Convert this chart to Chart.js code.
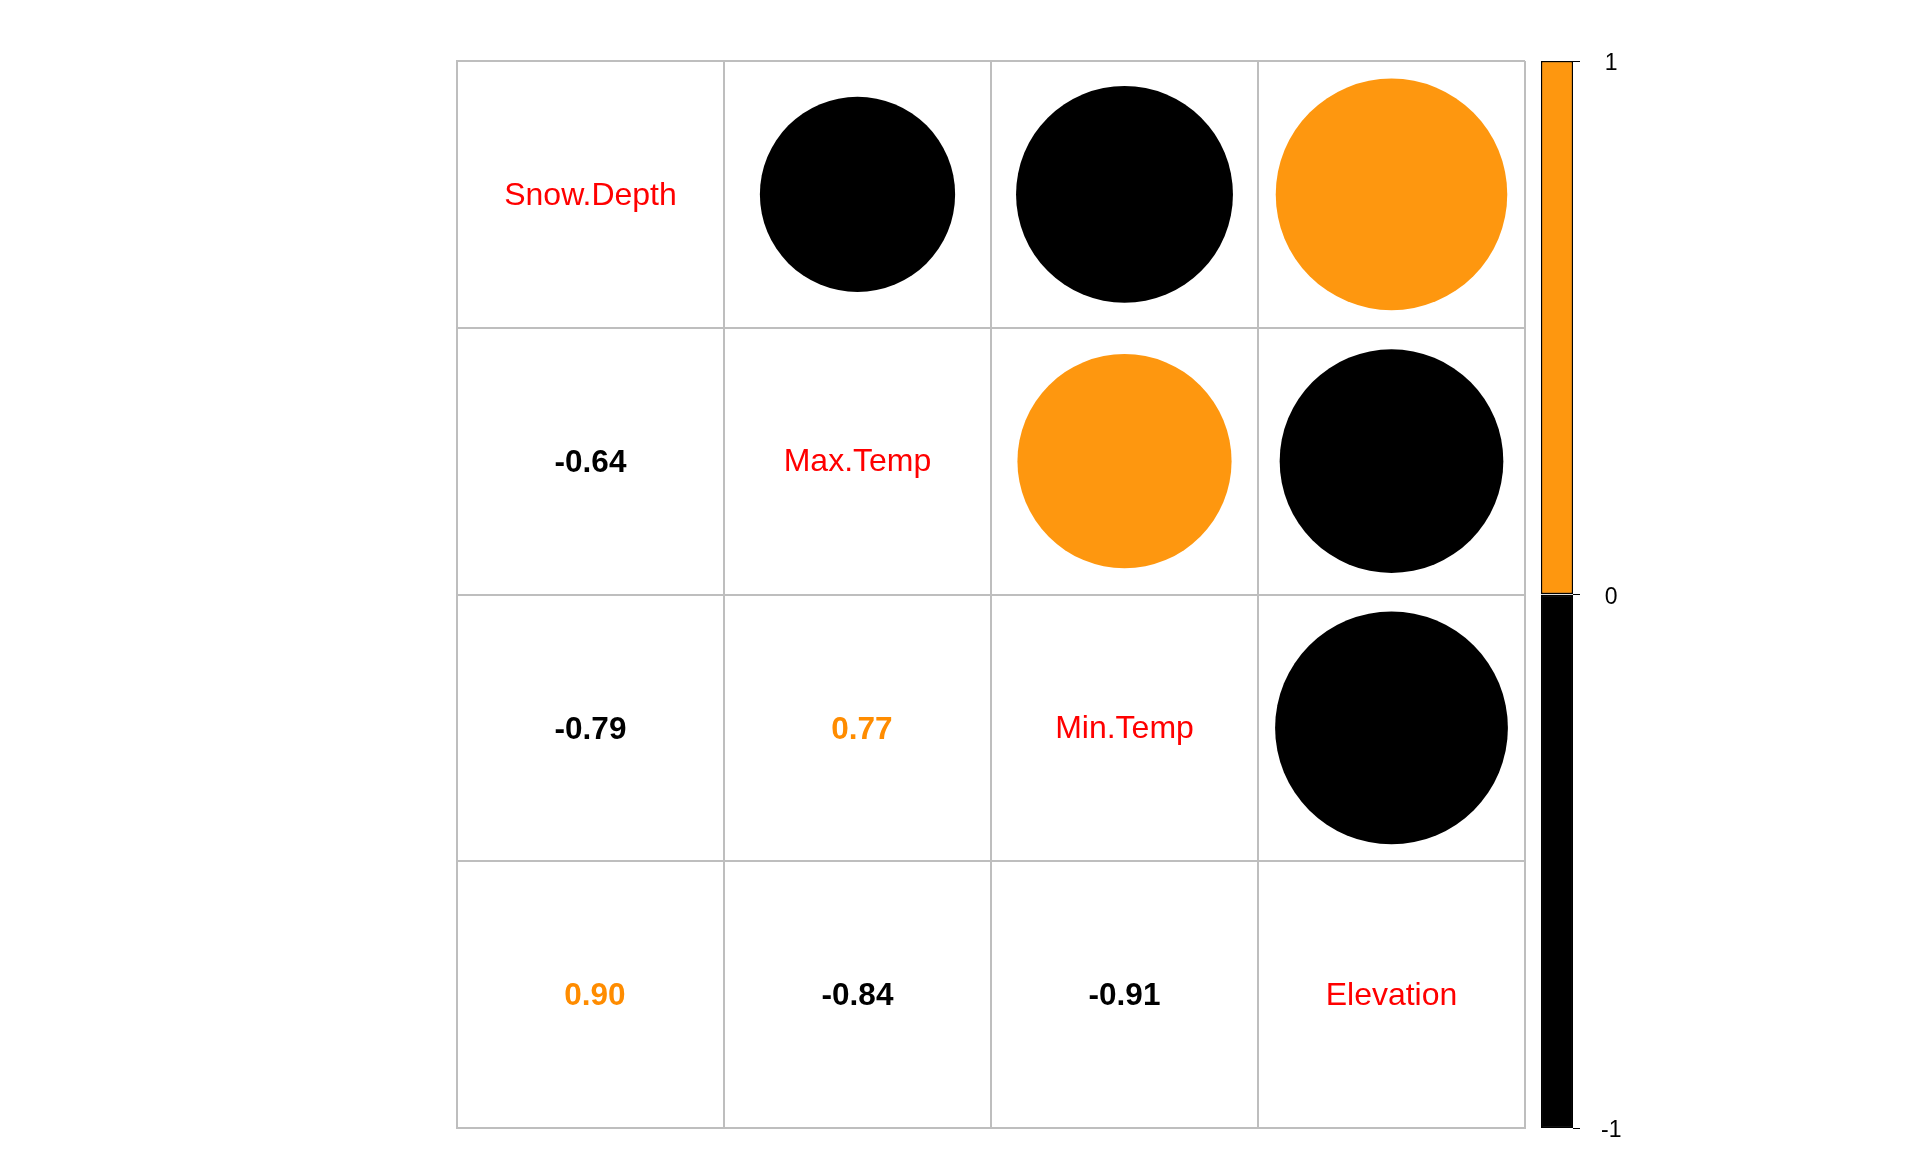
<!DOCTYPE html>
<html>
<head>
<meta charset="utf-8">
<script src="https://cdn.jsdelivr.net/npm/chart.js@4/dist/chart.umd.min.js"></script>
<style>
  html, body { margin: 0; padding: 0; background: #fff; overflow: hidden; }
  #wrap { position: relative; width: 1920px; height: 1152px; overflow: hidden; }
  #corr { position: absolute; left: 0; top: 0; }
  #legend { position: absolute; left: 1500px; top: 0; }
</style>
</head>
<body>
<div id="wrap">
  <canvas id="corr" width="1920" height="1152"></canvas>
  <canvas id="legend" width="200" height="1250"></canvas>
</div>
<script>
// Variables and correlation matrix
const variables = ['Snow.Depth', 'Max.Temp', 'Min.Temp', 'Elevation'];
const rowSnow = [1, -0.64, -0.79, 0.90];
const rowMaxT = [-0.64, 1, 0.77, -0.84];
const rowMinT = [-0.79, 0.77, 1, -0.91];
const rowElev = [0.90, -0.84, -0.91, 1];
const corrRows = [rowSnow, rowMaxT, rowMinT, rowElev];

// Colour bar ticks
const legendTicks = [-1, 0, 1];

const POS_COLOR = '#FE970F';
const NEG_COLOR = '#000000';
const GRID_COLOR = '#BEBEBE';
const FONT = '"Liberation Sans", Arial, sans-serif';

function colorFor(v) {
    return v >= 0 ? POS_COLOR : NEG_COLOR;
}

// Upper triangle: circles
const circlePoints = [];
corrRows.forEach((row, i) => {
    row.forEach((v, j) => {
        if (j > i) circlePoints.push({ x: j + 0.5, y: i + 0.5, v: v });
    });
});

// Draw diagonal names and lower-triangle numbers
const cellTextPlugin = {
    id: 'cellText',
    afterDatasetsDraw(chart) {
        const ctx = chart.ctx;
        const xs = chart.scales.x, ys = chart.scales.y;
        ctx.save();
        ctx.textAlign = 'center';
        ctx.textBaseline = 'middle';
        corrRows.forEach((row, i) => {
            row.forEach((v, j) => {
                const px = xs.getPixelForValue(j + 0.5);
                const py = ys.getPixelForValue(i + 0.5);
                if (i === j) {
                    ctx.font = '32px ' + FONT;
                    ctx.fillStyle = '#FF0000';
                    ctx.fillText(variables[i], px, py + 1.5);
                } else if (j < i) {
                    const label = (v >= 0 ? ' ' : '') + v.toFixed(2);
                    ctx.font = 'bold 31.5px ' + FONT;
                    ctx.fillStyle = v >= 0 ? '#FF8C00' : '#000000';
                    ctx.fillText(label, px, py + 2);
                }
            });
        });
        ctx.restore();
    }
};

new Chart(document.getElementById('corr'), {
    type: 'scatter',
    data: {
        datasets: [{
            data: circlePoints,
            pointBackgroundColor: ctx => (ctx.raw ? colorFor(ctx.raw.v) : NEG_COLOR),
            pointBorderWidth: 0,
            pointRadius: ctx => {
                if (!ctx.raw) return 0;
                const xs = ctx.chart.scales.x;
                const cell = Math.abs(xs.getPixelForValue(1) - xs.getPixelForValue(0));
                return 0.457 * cell * Math.sqrt(Math.abs(ctx.raw.v));
            }
        }]
    },
    options: {
        responsive: false,
        devicePixelRatio: 1,
        animation: false,
        events: [],
        layout: { padding: { left: 457, right: 395, top: 61, bottom: 24 } },
        plugins: { legend: { display: false }, tooltip: { enabled: false } },
        scales: {
            x: {
                type: 'linear', min: 0, max: 4,
                ticks: { display: false, stepSize: 1 },
                grid: { color: GRID_COLOR, lineWidth: 2, drawTicks: false },
                border: { color: GRID_COLOR, width: 2 },
                afterFit: s => { s.height = 0; }
            },
            y: {
                type: 'linear', min: 0, max: 4, reverse: true,
                ticks: { display: false, stepSize: 1 },
                grid: { color: GRID_COLOR, lineWidth: 2, drawTicks: false },
                border: { color: GRID_COLOR, width: 2 },
                afterFit: s => { s.width = 0; }
            }
        }
    },
    plugins: [cellTextPlugin]
});

// Colour legend bar
new Chart(document.getElementById('legend'), {
    type: 'bar',
    data: {
        labels: [''],
        datasets: [
            { data: [[0, 1]], backgroundColor: POS_COLOR, borderColor: '#000', borderWidth: 1.5, borderSkipped: false, grouped: false },
            { data: [[-1, 0]], backgroundColor: NEG_COLOR, borderColor: '#000', borderWidth: 1.5, borderSkipped: false, grouped: false }
        ]
    },
    options: {
        responsive: false,
        devicePixelRatio: 1,
        animation: false,
        events: [],
        layout: { padding: { left: 41, right: 0, top: 61, bottom: 122 } },
        plugins: { legend: { display: false }, tooltip: { enabled: false } },
        datasets: { bar: { barPercentage: 1, categoryPercentage: 1 } },
        scales: {
            x: { display: false },
            y: {
                position: 'right',
                min: -1, max: 1,
                afterBuildTicks: s => { s.ticks = legendTicks.map(v => ({ value: v })); },
                ticks: {
                    color: '#000',
                    font: { family: FONT, size: 23 },
                    padding: 21,
                    crossAlign: 'center',
                    labelOffset: 3
                },
                grid: { drawOnChartArea: false, color: '#000', lineWidth: 1, tickLength: 7 },
                border: { display: false },
                afterFit: s => { s.width = 127; }
            }
        }
    }
});
</script>
</body>
</html>
